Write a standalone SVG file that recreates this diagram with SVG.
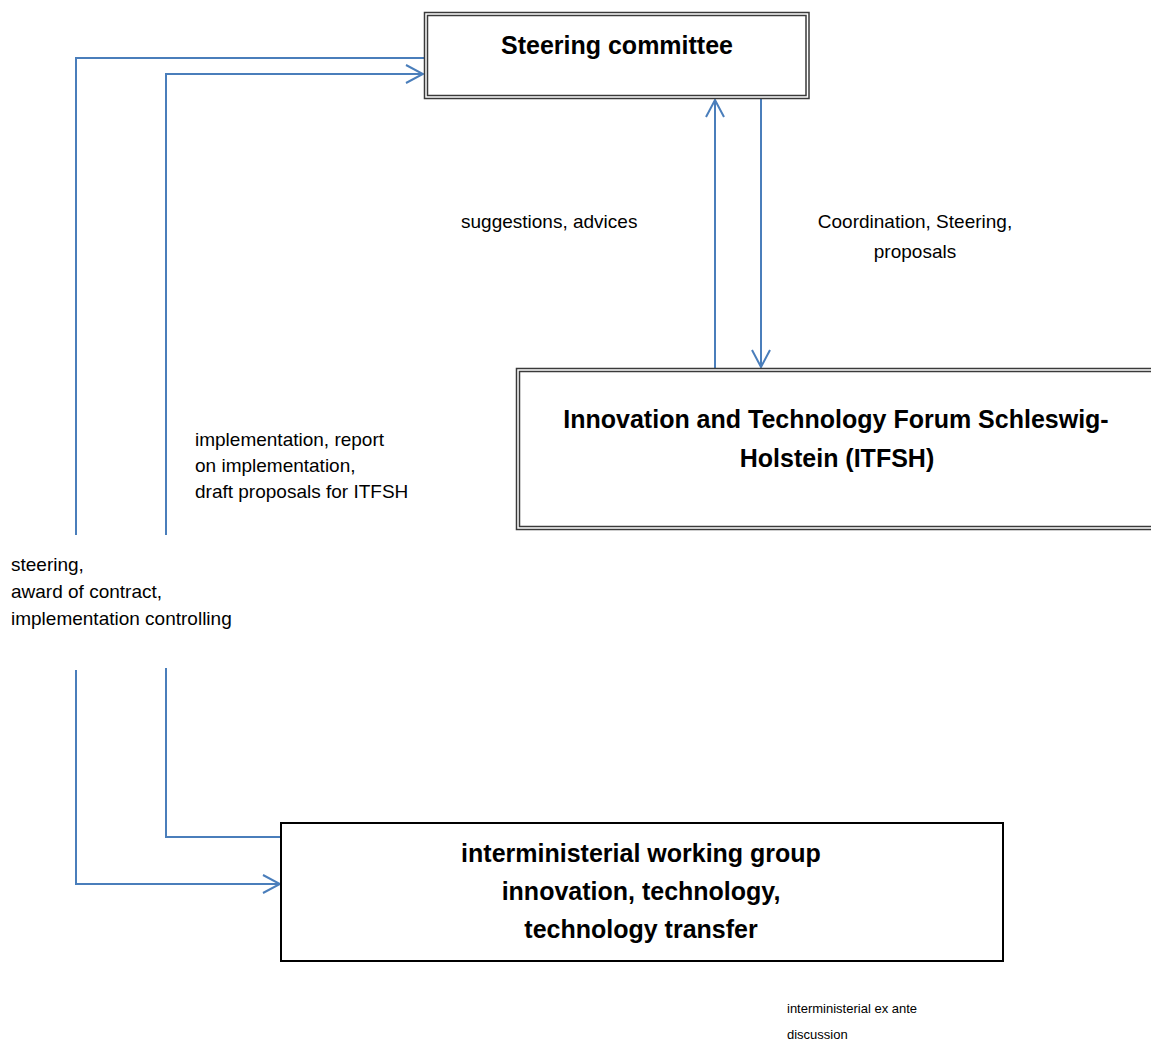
<svg xmlns="http://www.w3.org/2000/svg" width="1151" height="1041" viewBox="0 0 1151 1041">
<style>
.bg{fill:#ffffff}
.box{fill:#ffffff;stroke:#000000;stroke-width:2}
.dbl{fill:none;stroke:#3a3a3a;stroke-width:1.5}
.title{font-family:"Liberation Sans",Arial,sans-serif;font-weight:bold;font-size:25px;fill:#000000;text-anchor:middle}
.lbl{font-family:"Liberation Sans",Arial,sans-serif;font-size:19px;fill:#000000}
.small{font-family:"Liberation Sans",Arial,sans-serif;font-size:13px;fill:#000000}
.conn{fill:none;stroke:#4A7EBB;stroke-width:2}
</style>
<defs>
<marker id="arr" viewBox="0 0 20 20" refX="18" refY="10" markerWidth="20" markerHeight="20" markerUnits="userSpaceOnUse" orient="auto">
<path d="M1,1 L18,10 L1,19" fill="none" stroke="#4A7EBB" stroke-width="2"/>
</marker>
</defs>
<rect class="bg" x="0" y="0" width="1151" height="1041"/>

<g id="connectors">
<path class="conn" d="M424,58 L76,58 L76,535"/>
<path class="conn" d="M76,670 L76,884 L280,884" marker-end="url(#arr)"/>
<path class="conn" d="M166,535 L166,74 L423,74" marker-end="url(#arr)"/>
<path class="conn" d="M166,668 L166,837 L281,837"/>
<path class="conn" d="M715,368 L715,100" marker-end="url(#arr)"/>
<path class="conn" d="M761,98 L761,367" marker-end="url(#arr)"/>
</g>

<g id="node-steering">
<rect class="bg" x="424" y="12" width="385" height="87"/>
<rect class="dbl" x="424.5" y="12.5" width="384.5" height="86"/>
<rect class="dbl" x="427.5" y="15.5" width="378.5" height="80"/>
<text class="title" x="617" y="54">Steering committee</text>
</g>

<g id="node-itfsh">
<rect class="bg" x="516" y="368" width="640" height="162"/>
<rect class="dbl" x="516.5" y="368.5" width="640" height="161"/>
<rect class="dbl" x="519.5" y="371.5" width="640" height="155"/>
<text class="title" x="836" y="428">Innovation and Technology Forum Schleswig-</text>
<text class="title" x="837" y="467">Holstein (ITFSH)</text>
</g>

<g id="node-iwg">
<rect class="box" x="281" y="823" width="722" height="138"/>
<text class="title" x="641" y="862">interministerial working group</text>
<text class="title" x="641" y="900">innovation, technology,</text>
<text class="title" x="641" y="938">technology transfer</text>
</g>

<g id="labels">
<text class="lbl" x="461" y="228">suggestions, advices</text>
<text class="lbl" x="915" y="228" text-anchor="middle">Coordination, Steering,</text>
<text class="lbl" x="915" y="258" text-anchor="middle">proposals</text>
<text class="lbl" x="195" y="446">implementation, report</text>
<text class="lbl" x="195" y="472">on implementation,</text>
<text class="lbl" x="195" y="498">draft proposals for ITFSH</text>
<text class="lbl" x="11" y="571">steering,</text>
<text class="lbl" x="11" y="598">award of contract,</text>
<text class="lbl" x="11" y="625">implementation controlling</text>
<text class="small" x="787" y="1013">interministerial ex ante</text>
<text class="small" x="787" y="1039">discussion</text>
</g>
</svg>
